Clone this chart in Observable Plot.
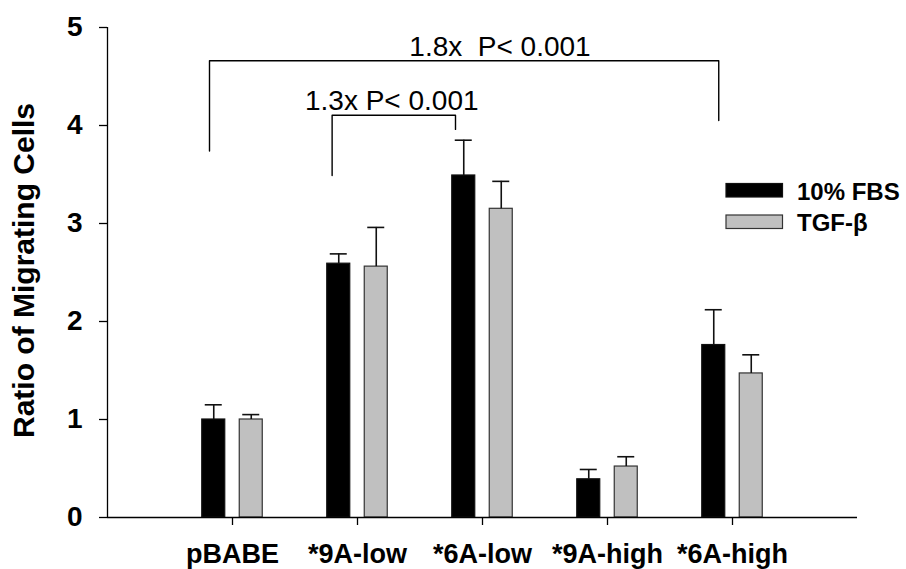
<!DOCTYPE html>
<html>
<head>
<meta charset="utf-8">
<script src="https://cdn.jsdelivr.net/npm/d3@7"></script>
<script src="https://cdn.jsdelivr.net/npm/@observablehq/plot@0.6"></script>
<style>
  html, body { margin: 0; padding: 0; background: white; }
  #chart { position: relative; width: 906px; height: 569px; }
</style>
</head>
<body>
<div id="chart"></div>
<script>
// ---- data ----
const categories = ["pBABE", "*9A-low", "*6A-low", "*9A-high", "*6A-high"];
const seriesNames = ["10% FBS", "TGF-\u03b2"];
const fbsValues = [1.0, 2.59, 3.49, 0.39, 1.76];
const fbsErrors = [0.15, 0.10, 0.36, 0.10, 0.36];
const tgfValues = [1.0, 2.56, 3.15, 0.52, 1.47];
const tgfErrors = [0.05, 0.40, 0.28, 0.10, 0.19];
const yTicks = [0, 1, 2, 3, 4, 5];
const yTitle = "Ratio of Migrating Cells";

// significance brackets (data units)
const bracketLabels = ["1.8x  P< 0.001", "1.3x P< 0.001"];
const bracketLeftX = [0.816, 1.797];
const bracketRightX = [4.89, 2.784];
const bracketTopY = [4.66, 4.105];
const bracketLeftBottomY = [3.74, 3.49];
const bracketRightBottomY = [4.05, 3.96];
const bracketLabelX = [3.14, 2.274];
const bracketLabelY = [4.80, 4.254];

// ---- build tables ----
const seriesOffset = [-0.15, 0.15];
const halfBar = 0.092;
const halfCap = 0.068;
const colors = {"10% FBS": "#000000", "TGF-\u03b2": "#c0c0c0"};
const strokes = {"10% FBS": "#111111", "TGF-\u03b2": "#333333"};

const rows = [];
categories.forEach((c, i) => {
  rows.push({cat: c, series: seriesNames[0], x: i + 1 + seriesOffset[0], value: fbsValues[i], err: fbsErrors[i]});
  rows.push({cat: c, series: seriesNames[1], x: i + 1 + seriesOffset[1], value: tgfValues[i], err: tgfErrors[i]});
});

const bracketPts = [];
bracketLabels.forEach((lab, k) => {
  bracketPts.push({id: k, x: bracketLeftX[k], y: bracketLeftBottomY[k]});
  bracketPts.push({id: k, x: bracketLeftX[k], y: bracketTopY[k]});
  bracketPts.push({id: k, x: bracketRightX[k], y: bracketTopY[k]});
  bracketPts.push({id: k, x: bracketRightX[k], y: bracketRightBottomY[k]});
});
const bracketText = bracketLabels.map((t, k) => ({text: t, x: bracketLabelX[k], y: bracketLabelY[k]}));

const FONT = "'Liberation Sans', Arial, Helvetica, sans-serif";

const plot = Plot.plot({
  width: 906,
  height: 569,
  marginLeft: 107,
  marginRight: 49,
  marginTop: 27,
  marginBottom: 52,
  style: {fontFamily: FONT, background: "white", color: "black"},
  x: {domain: [0, 6], axis: null},
  y: {domain: [0, 5], axis: null},
  marks: [
    Plot.rect(rows, {
      x1: d => d.x - halfBar, x2: d => d.x + halfBar,
      y1: 0, y2: "value",
      fill: d => colors[d.series], stroke: d => strokes[d.series], strokeWidth: 1.2
    }),
    Plot.ruleX(rows, {x: "x", y1: "value", y2: d => d.value + d.err, stroke: "#111", strokeWidth: 1.6}),
    Plot.ruleY(rows, {y: d => d.value + d.err, x1: d => d.x - halfCap, x2: d => d.x + halfCap, stroke: "#111", strokeWidth: 1.6}),
    Plot.line(bracketPts, {x: "x", y: "y", z: "id", stroke: "black", strokeWidth: 1.4}),
    Plot.text(bracketText, {x: "x", y: "y", text: "text", fontSize: 28, fill: "black", textAnchor: "middle"}),
    Plot.ruleX([0], {y1: 0, y2: 5, stroke: "black", strokeWidth: 1.3}),
    Plot.ruleY([0], {x1: 0, x2: 6, stroke: "black", strokeWidth: 1.3}),
    Plot.axisY({ticks: yTicks, tickSize: 8, tickPadding: 17, fontSize: 28, fontWeight: "bold", label: null, strokeWidth: 1.3, tickFormat: d => String(d)}),
    Plot.axisX({ticks: [1, 2, 3, 4, 5], tickSize: 8, tickPadding: 18, fontSize: 27, fontWeight: "bold", label: null, strokeWidth: 1.3, tickFormat: d => categories[d - 1]})
  ]
});

document.getElementById("chart").appendChild(plot);

// y-axis title
const svg = d3.select(plot);
svg.append("text")
  .attr("transform", "translate(33.5,270.5) rotate(-90)")
  .attr("text-anchor", "middle")
  .attr("font-family", FONT)
  .attr("font-weight", "bold")
  .attr("font-size", 30)
  .attr("fill", "black")
  .text(yTitle);

// legend
const lg = svg.append("g").attr("font-family", FONT).attr("font-weight", "bold").attr("font-size", 24).attr("text-anchor", "start");
seriesNames.forEach((s, k) => {
  const y0 = 183.5 + k * 31.5;
  lg.append("rect").attr("x", 726).attr("y", y0).attr("width", 56.5).attr("height", 13.5)
    .attr("fill", colors[s]).attr("stroke", strokes[s]).attr("stroke-width", 1.2);
  lg.append("text").attr("x", 797).attr("y", y0 + 16).attr("fill", "black").attr("text-anchor", "start").text(s);
});
</script>
</body>
</html>
